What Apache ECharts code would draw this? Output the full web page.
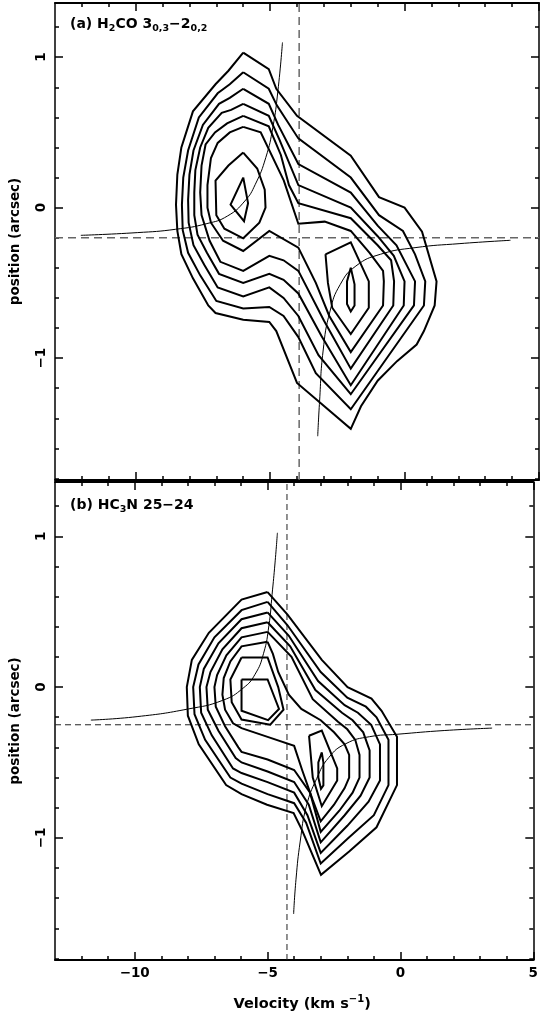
<!DOCTYPE html>
<html>
<head>
<meta charset="utf-8">
<script src="https://cdn.jsdelivr.net/npm/echarts@6/dist/echarts.min.js"></script>
<style>
  html, body { margin: 0; padding: 0; background: #fff; }
  #chart { width: 541px; height: 1024px; }
</style>
</head>
<body>
<div id="chart"></div>
<script>
// 坐标范围与刻度
const velRange = [-13, 5];
const posRange = [-1.81, 1.36];
const velMajor = [-10, -5, 0, 5];
const velMinor = [-12, -11, -9, -8, -7, -6, -4, -3, -2, -1, 1, 2, 3, 4];
const posMajor = [-1, 0, 1];
const posMinor = [-1.8, -1.6, -1.4, -1.2, -0.8, -0.6, -0.4, -0.2, 0.2, 0.4, 0.6, 0.8, 1.2];

// (a) H2CO 等值线 [velocity, position]
const a1 = [[-6.0,1.03],[-5.05,0.92],[-4.77,0.79],[-4.0,0.61],[-2.0,0.345],[-0.95,0.07],[0.0,0.0],[0.65,-0.16],[1.19,-0.49],[1.12,-0.65],[0.72,-0.82],[0.45,-0.91],[-0.28,-1.02],[-1.0,-1.15],[-1.62,-1.32],[-2.0,-1.47],[-4.0,-1.165],[-4.77,-0.82],[-5.03,-0.76],[-6.0,-0.745],[-7.03,-0.70],[-7.3,-0.65],[-7.87,-0.47],[-8.3,-0.31],[-8.45,-0.155],[-8.5,0.02],[-8.45,0.22],[-8.3,0.40],[-7.87,0.64],[-7.03,0.82],[-6.55,0.91]];
const a2 = [[-6.0,0.90],[-5.05,0.79],[-4.75,0.68],[-3.95,0.46],[-2.0,0.2],[-0.95,-0.05],[-0.06,-0.155],[0.39,-0.31],[0.77,-0.49],[0.72,-0.65],[-2.0,-1.34],[-3.3,-1.1],[-3.95,-0.86],[-4.5,-0.72],[-5.03,-0.66],[-6.0,-0.67],[-7.0,-0.62],[-7.6,-0.45],[-8.05,-0.3],[-8.25,-0.15],[-8.28,0.02],[-8.23,0.2],[-8.05,0.38],[-7.65,0.6],[-6.95,0.76],[-6.5,0.82]];
const a3 = [[-6.0,0.79],[-5.05,0.69],[-4.7,0.55],[-3.95,0.29],[-2.0,0.1],[-1.0,-0.12],[-0.3,-0.25],[0.39,-0.49],[0.35,-0.65],[-2.0,-1.24],[-3.2,-0.98],[-3.95,-0.72],[-4.5,-0.6],[-5.03,-0.53],[-6.0,-0.59],[-6.95,-0.53],[-7.45,-0.38],[-7.85,-0.25],[-8.03,-0.1],[-8.05,0.05],[-8.0,0.22],[-7.85,0.38],[-7.5,0.55],[-6.9,0.69],[-6.5,0.73]];
const a4 = [[-6.0,0.69],[-5.05,0.61],[-4.65,0.45],[-3.95,0.15],[-2.0,0.0],[-1.0,-0.19],[-0.4,-0.32],[0.0,-0.49],[-0.03,-0.65],[-2.0,-1.18],[-3.1,-0.85],[-3.95,-0.57],[-4.5,-0.48],[-5.03,-0.44],[-6.0,-0.50],[-6.9,-0.44],[-7.35,-0.3],[-7.7,-0.18],[-7.82,-0.05],[-7.82,0.1],[-7.78,0.25],[-7.6,0.4],[-7.3,0.53],[-6.8,0.63],[-6.45,0.65]];
const a5 = [[-6.0,0.61],[-5.05,0.54],[-4.6,0.35],[-4.3,0.15],[-3.95,0.03],[-2.0,-0.07],[-1.0,-0.25],[-0.5,-0.35],[-0.39,-0.49],[-0.42,-0.65],[-2.0,-1.07],[-3.0,-0.75],[-3.95,-0.42],[-4.5,-0.35],[-5.03,-0.32],[-6.0,-0.42],[-6.85,-0.36],[-7.25,-0.22],[-7.55,-0.05],[-7.6,0.1],[-7.55,0.28],[-7.4,0.42],[-7.05,0.5],[-6.6,0.56]];
const a6 = [[-6.0,0.537],[-5.35,0.5],[-4.49,0.18],[-3.95,-0.107],[-2.97,-0.093],[-2.0,-0.155],[-1.3,-0.3],[-0.8,-0.42],[-0.77,-0.49],[-0.8,-0.65],[-2.0,-0.96],[-2.8,-0.72],[-3.3,-0.5],[-3.95,-0.266],[-5.03,-0.155],[-6.0,-0.288],[-6.75,-0.22],[-7.2,-0.1],[-7.33,0.0],[-7.33,0.15],[-7.2,0.33],[-6.95,0.43],[-6.5,0.5]];
const a7L = [[-6.0,0.366],[-5.48,0.26],[-5.2,0.12],[-5.17,0.0],[-5.4,-0.1],[-6.0,-0.204],[-6.7,-0.14],[-7.0,-0.05],[-7.03,0.18],[-6.55,0.28]];
const a7R = [[-2.94,-0.31],[-2.0,-0.23],[-1.33,-0.49],[-1.33,-0.665],[-2.0,-0.84],[-2.69,-0.665],[-2.85,-0.5]];
const a8L = [[-6.0,0.20],[-5.82,0.03],[-5.97,-0.09],[-6.47,0.02]];
const a8R = [[-2.0,-0.40],[-1.86,-0.51],[-1.86,-0.65],[-2.0,-0.69],[-2.14,-0.64],[-2.14,-0.49]];
const aCurve1 = [[-12.04,-0.184],[-9.94,-0.166],[-8.52,-0.144],[-7.35,-0.106],[-6.58,-0.055],[-5.94,0.044],[-5.55,0.155],[-5.16,0.333],[-4.9,0.532],[-4.71,0.776],[-4.54,1.098]];
const aCurve2 = [[-3.23,-1.519],[-3.16,-1.286],[-3.03,-0.953],[-2.77,-0.687],[-2.39,-0.51],[-1.81,-0.388],[-0.9,-0.31],[0.39,-0.266],[2.06,-0.239],[3.94,-0.217]];
const aCross = [-3.92, -0.20];

// (b) HC3N 等值线
const b1 = [[-5.0,0.63],[-4.25,0.48],[-2.96,0.18],[-1.99,0.0],[-1.09,-0.076],[-0.71,-0.157],[-0.13,-0.33],[-0.13,-0.65],[-0.9,-0.93],[-1.93,-1.09],[-2.99,-1.245],[-3.7,-0.95],[-4.02,-0.836],[-5.02,-0.78],[-5.98,-0.71],[-6.56,-0.65],[-7.59,-0.38],[-8.0,-0.19],[-8.04,0.0],[-7.85,0.18],[-7.21,0.36],[-5.98,0.58]];
const b2 = [[-5.0,0.565],[-4.25,0.41],[-3.0,0.1],[-2.0,-0.07],[-1.3,-0.13],[-0.9,-0.2],[-0.45,-0.35],[-0.45,-0.65],[-1.0,-0.85],[-1.95,-1.0],[-3.0,-1.17],[-3.55,-0.9],[-4.0,-0.77],[-5.0,-0.71],[-5.98,-0.64],[-6.4,-0.6],[-7.35,-0.35],[-7.75,-0.18],[-7.8,0.0],[-7.6,0.15],[-7.0,0.33],[-5.98,0.51]];
const b3 = [[-5.0,0.495],[-4.2,0.34],[-3.1,0.04],[-2.1,-0.12],[-1.6,-0.17],[-1.1,-0.25],[-0.77,-0.38],[-0.77,-0.62],[-1.2,-0.76],[-2.0,-0.92],[-3.0,-1.1],[-3.5,-0.85],[-4.0,-0.70],[-5.0,-0.63],[-5.98,-0.57],[-6.3,-0.54],[-7.1,-0.32],[-7.5,-0.17],[-7.55,0.0],[-7.4,0.12],[-6.85,0.29],[-5.98,0.45]];
const b4 = [[-5.0,0.43],[-4.15,0.27],[-3.2,-0.02],[-2.2,-0.17],[-1.8,-0.22],[-1.4,-0.3],[-1.16,-0.42],[-1.16,-0.6],[-1.5,-0.72],[-2.1,-0.85],[-3.0,-1.03],[-3.45,-0.78],[-4.0,-0.63],[-5.0,-0.56],[-5.98,-0.5],[-6.2,-0.47],[-6.85,-0.29],[-7.25,-0.15],[-7.3,0.0],[-7.15,0.1],[-6.7,0.25],[-5.98,0.39]];
const b5 = [[-5.0,0.366],[-4.1,0.2],[-3.3,-0.08],[-2.35,-0.23],[-2.0,-0.28],[-1.7,-0.35],[-1.54,-0.45],[-1.54,-0.6],[-1.8,-0.7],[-2.3,-0.82],[-3.0,-0.96],[-3.4,-0.7],[-4.0,-0.55],[-5.0,-0.48],[-5.98,-0.43],[-6.1,-0.4],[-6.6,-0.26],[-6.95,-0.13],[-7.0,0.0],[-6.9,0.08],[-6.55,0.21],[-5.98,0.33]];
const b6 = [[-5.0,0.30],[-4.8,0.22],[-4.6,0.1],[-4.2,-0.05],[-3.73,-0.145],[-3.0,-0.22],[-2.5,-0.3],[-2.1,-0.38],[-1.93,-0.45],[-1.93,-0.6],[-2.1,-0.67],[-2.5,-0.78],[-3.0,-0.89],[-3.3,-0.75],[-3.7,-0.55],[-4.0,-0.39],[-5.0,-0.33],[-5.98,-0.272],[-6.3,-0.24],[-6.6,-0.15],[-6.7,-0.05],[-6.65,0.06],[-6.4,0.17],[-5.98,0.27]];
const b7L = [[-5.98,0.196],[-5.0,0.196],[-4.6,0.0],[-4.4,-0.15],[-4.9,-0.25],[-5.98,-0.215],[-6.35,-0.1],[-6.4,0.05]];
const b7R = [[-3.44,-0.323],[-2.96,-0.288],[-2.38,-0.54],[-2.38,-0.62],[-2.96,-0.79],[-3.3,-0.6]];
const b8L = [[-5.98,0.051],[-5.0,0.051],[-4.57,-0.145],[-4.98,-0.219],[-5.98,-0.157]];
const b8R = [[-2.96,-0.433],[-2.9,-0.5],[-2.9,-0.652],[-2.99,-0.675],[-3.09,-0.6],[-3.09,-0.5]];
const bCurve1 = [[-11.65,-0.219],[-9.91,-0.196],[-7.98,-0.145],[-6.69,-0.088],[-5.92,-0.007],[-5.47,0.085],[-5.15,0.224],[-4.95,0.408],[-4.83,0.615],[-4.72,0.823],[-4.63,1.023]];
const bCurve2 = [[-4.02,-1.505],[-3.93,-1.274],[-3.77,-1.021],[-3.54,-0.79],[-3.15,-0.606],[-2.7,-0.468],[-2.06,-0.376],[-1.16,-0.329],[-0.13,-0.313],[1.67,-0.288],[3.45,-0.272]];
const bCross = [-4.27, -0.25];

const contoursA = [a1, a2, a3, a4, a5, a6, a7L, a7R, a8L, a8R];
const contoursB = [b1, b2, b3, b4, b5, b6, b7L, b7R, b8L, b8R];

const FONT = "DejaVu Sans";
const minus = v => String(v).replace('-', '\u2212');

function xAxes(grid, labels) {
  const base = { type: 'value', gridIndex: grid, min: velRange[0], max: velRange[1], splitLine: { show: false } };
  const tick = (vals, len) => ({ show: true, inside: true, length: len, customValues: vals, lineStyle: { color: '#000', width: 1.5 } });
  return [
    Object.assign({}, base, {
      position: 'bottom',
      axisLine: { show: true, onZero: false, lineStyle: { color: '#000', width: 2 } },
      axisTick: tick(velMajor, 8),
      axisLabel: { show: labels, customValues: velMajor, formatter: minus, color: '#000', fontSize: 13.5, fontWeight: 'bold', fontFamily: FONT, margin: 6 },
      name: labels ? 'Velocity (km s{sup|\u22121})' : '',
      nameLocation: 'middle', nameGap: 34,
      nameTextStyle: { color: '#000', fontSize: 14.5, fontWeight: 'bold', fontFamily: FONT, lineHeight: 20, padding: [0, 0, 0, 16],
        rich: { sup: { fontSize: 10, fontWeight: 'bold', fontFamily: FONT, color: '#000', verticalAlign: 'top', lineHeight: 20 } } }
    }),
    Object.assign({}, base, { position: 'bottom', axisLine: { show: false, onZero: false }, axisTick: tick(velMinor, 4), axisLabel: { show: false } }),
    Object.assign({}, base, { position: 'top', axisLine: { show: true, onZero: false, lineStyle: { color: '#000', width: 2 } }, axisTick: tick(velMajor, 8), axisLabel: { show: false } }),
    Object.assign({}, base, { position: 'top', axisLine: { show: false, onZero: false }, axisTick: tick(velMinor, 4), axisLabel: { show: false } })
  ];
}

function yAxes(grid) {
  const base = { type: 'value', gridIndex: grid, min: posRange[0], max: posRange[1], splitLine: { show: false } };
  const tick = (vals, len) => ({ show: true, inside: true, length: len, customValues: vals, lineStyle: { color: '#000', width: 1.5 } });
  return [
    Object.assign({}, base, {
      position: 'left',
      axisLine: { show: true, onZero: false, lineStyle: { color: '#000', width: 1.5 } },
      axisTick: tick(posMajor, 8),
      axisLabel: { customValues: posMajor, formatter: minus, rotate: 90, color: '#000', fontSize: 13.5, fontWeight: 'bold', fontFamily: FONT, margin: 7 },
      name: 'position (arcsec)', nameLocation: 'middle', nameGap: 33, nameRotate: 90,
      nameTextStyle: { color: '#000', fontSize: 13.5, fontWeight: 'bold', fontFamily: FONT }
    }),
    Object.assign({}, base, { position: 'left', axisLine: { show: false, onZero: false }, axisTick: tick(posMinor, 4), axisLabel: { show: false } }),
    Object.assign({}, base, { position: 'right', axisLine: { show: true, onZero: false, lineStyle: { color: '#000', width: 1.5 } }, axisTick: tick(posMajor, 8), axisLabel: { show: false } }),
    Object.assign({}, base, { position: 'right', axisLine: { show: false, onZero: false }, axisTick: tick(posMinor, 4), axisLabel: { show: false } })
  ];
}

function panelSeries(axisIdx, contours, curves, cross, dashStyle) {
  const out = [];
  contours.forEach(c => {
    out.push({
      type: 'line', xAxisIndex: axisIdx, yAxisIndex: axisIdx,
      data: c.concat([c[0]]), // 闭合
      showSymbol: false, silent: true,
      lineStyle: { color: '#000', width: 2, join: 'miter' }, z: 3
    });
  });
  curves.forEach(c => {
    out.push({
      type: 'line', xAxisIndex: axisIdx, yAxisIndex: axisIdx, data: c,
      showSymbol: false, smooth: true, silent: true,
      lineStyle: { color: '#000', width: 1 }, z: 4
    });
  });
  // 十字虚线
  out.push({
    type: 'line', xAxisIndex: axisIdx, yAxisIndex: axisIdx,
    data: [[cross[0], posRange[0]], [cross[0], posRange[1]]],
    showSymbol: false, silent: true, lineStyle: dashStyle, z: 2
  });
  out.push({
    type: 'line', xAxisIndex: axisIdx, yAxisIndex: axisIdx,
    data: [[velRange[0], cross[1]], [velRange[1], cross[1]]],
    showSymbol: false, silent: true, lineStyle: dashStyle, z: 2
  });
  return out;
}

const titleStyle = {
  color: '#000', fontSize: 14, fontWeight: 'bold', fontFamily: FONT, lineHeight: 20,
  rich: { s: { fontSize: 9.5, fontWeight: 'bold', fontFamily: FONT, color: '#000', verticalAlign: 'bottom', lineHeight: 15 } }
};

const chart = echarts.init(document.getElementById('chart'));
const option = {
  animation: false,
  backgroundColor: '#fff',
  title: [
    { text: '(a) H{s|2}CO 3{s|0,3}\u22122{s|0,2}', left: 70, top: 14, padding: 0, textStyle: titleStyle },
    { text: '(b) HC{s|3}N 25\u221224', left: 70, top: 495, padding: 0, textStyle: titleStyle }
  ],
  grid: [
    { left: 54, top: 3, width: 485, height: 477 },
    { left: 54, top: 482, width: 485, height: 478 }
  ],
  xAxis: xAxes(0, false).concat(xAxes(1, true)),
  yAxis: yAxes(0).concat(yAxes(1)),
  series: panelSeries(0, contoursA, [aCurve1, aCurve2], aCross, { color: '#666', width: 1.5, type: [8, 5] })
    .concat(panelSeries(4, contoursB, [bCurve1, bCurve2], bCross, { color: '#222', width: 1, type: [6, 4] }))
};
chart.setOption(option);
</script>
</body>
</html>
